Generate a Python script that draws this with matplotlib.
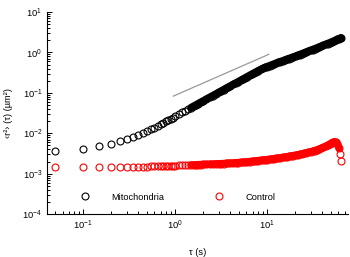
import matplotlib
matplotlib.use("Agg")
import matplotlib.pyplot as plt

plt.rcParams['font.family'] = ['Liberation Sans', 'DejaVu Sans']

# lag times (s)
tau = [0.05, 0.1, 0.15, 0.2, 0.25, 0.3, 0.35, 0.4, 0.45, 0.5,
       0.55, 0.6, 0.65, 0.7, 0.75, 0.8, 0.85, 0.9, 0.95, 1.0,
       1.1, 1.2, 1.3, 1.4, 1.5, 1.6, 1.7, 1.8, 1.9, 2.0,
       2.2, 2.4, 2.6, 2.8, 3.0, 3.2, 3.4, 3.6, 3.8, 4.0,
       4.3, 4.6, 4.9, 5.2, 5.5, 5.8, 6.1, 6.5, 6.9, 7.3,
       7.7, 8.1, 8.6, 9.1, 9.6, 10.1, 10.7, 11.3, 11.9, 12.6,
       13.3, 14.0, 14.8, 15.6, 16.5, 17.4, 18.4, 19.4, 20.5, 21.6,
       22.8, 24.1, 25.4, 26.8, 28.3, 29.9, 31.5, 33.2, 35.0, 37.0,
       39.0, 41.2, 43.5, 45.9, 48.4, 51.0, 53.5, 56.0, 58.5, 61.0,
       63.0, 64.5]

# MSD mitochondria (um^2)
msd_mito = [0.0037, 0.0041, 0.0048, 0.0055, 0.0063, 0.0072, 0.0082, 0.0091, 0.0102, 0.0114,
            0.0126, 0.0139, 0.0153, 0.0167, 0.0182, 0.0197, 0.0213, 0.0229, 0.0245, 0.0261,
            0.0294, 0.0328, 0.0362, 0.0397, 0.0433, 0.0469, 0.0506, 0.0544, 0.0582, 0.0620,
            0.0699, 0.0779, 0.0861, 0.0945, 0.1030, 0.1116, 0.1204, 0.1293, 0.1384, 0.1475,
            0.1615, 0.1757, 0.1901, 0.2048, 0.2196, 0.2347, 0.2500, 0.2707, 0.2916, 0.3130,
            0.3346, 0.3565, 0.3807, 0.404, 0.4262, 0.4473, 0.4711, 0.4940, 0.5162, 0.5419,
            0.5674, 0.5927, 0.6207, 0.6481, 0.6786, 0.7088, 0.7420, 0.7753, 0.8121, 0.8494,
            0.8908, 0.9353, 0.9796, 1.0269, 1.0773, 1.1307, 1.1837, 1.2398, 1.2988, 1.3654,
            1.4331, 1.5073, 1.5845, 1.6647, 1.7479, 1.8370, 1.927, 2.017, 2.107, 2.197,
            2.269, 2.29]

# MSD control (1e-3 um^2)
msd_ctrl = [1.43, 1.43, 1.44, 1.44, 1.45, 1.46, 1.47, 1.48, 1.49, 1.50,
            1.51, 1.52, 1.53, 1.54, 1.55, 1.56, 1.56, 1.57, 1.58, 1.58,
            1.60, 1.61, 1.62, 1.63, 1.64, 1.65, 1.66, 1.67, 1.68, 1.69,
            1.70, 1.72, 1.73, 1.75, 1.76, 1.77, 1.78, 1.79, 1.81, 1.82,
            1.84, 1.86, 1.88, 1.90, 1.92, 1.94, 1.96, 1.99, 2.02, 2.05,
            2.08, 2.11, 2.14, 2.17, 2.20, 2.23, 2.27, 2.31, 2.35, 2.39,
            2.43, 2.47, 2.52, 2.57, 2.62, 2.68, 2.74, 2.80, 2.87, 2.94,
            3.01, 3.09, 3.18, 3.27, 3.37, 3.48, 3.60, 3.73, 3.88, 4.05,
            4.25, 4.48, 4.75, 5.05, 5.40, 5.85, 6.15, 6.05, 5.45, 4.30,
            3.00, 2.10]
msd_ctrl = [v * 1e-3 for v in msd_ctrl]

# slope-1 guide line
guide_tau = [0.96, 10.5]
guide_msd = [0.083, 0.90]

fig = plt.figure(figsize=(3.5, 2.57), dpi=100)
ax = fig.add_axes([0.134, 0.167, 0.86, 0.786])

# where the markers pile up into a solid band
i0 = tau.index(1.5)
ax.plot(tau[i0:], msd_mito[i0:], '-', color='black', lw=5.4,
        solid_capstyle='round', solid_joinstyle='round')
ax.plot(tau[i0:-2], msd_ctrl[i0:-2], '-', color='red', lw=5.4,
        solid_capstyle='round', solid_joinstyle='round')

ax.plot(tau, msd_mito, 'o', ms=5.0, mfc='none', mec='black', mew=0.8,
        label='Mitochondria')
ax.plot(tau, msd_ctrl, 'o', ms=5.0, mfc='none', mec='red', mew=0.8,
        label='Control')
ax.plot(guide_tau, guide_msd, color='#999999', lw=0.9)

ax.set_xscale('log')
ax.set_yscale('log')
ax.set_xlim(0.0406, 76)
ax.set_ylim(1e-4, 10)

ax.spines['top'].set_visible(False)
ax.spines['right'].set_visible(False)
ax.tick_params(which='both', direction='in', labelsize=6.7, width=0.7)
ax.tick_params(which='major', length=3.5)
ax.tick_params(which='minor', length=2)

ax.set_xlabel('τ (s)', fontsize=6.7, labelpad=11)
ax.set_ylabel('‹r²› (τ) (µm²)', fontsize=6.7, labelpad=7)

ax.legend(loc='center left', bbox_to_anchor=(0.11, 0.084), ncol=2,
          frameon=False, fontsize=6.7, handlelength=1.0, handletextpad=2.4,
          columnspacing=5.3, borderpad=0, borderaxespad=0)

fig.savefig('out.png', dpi=100)
